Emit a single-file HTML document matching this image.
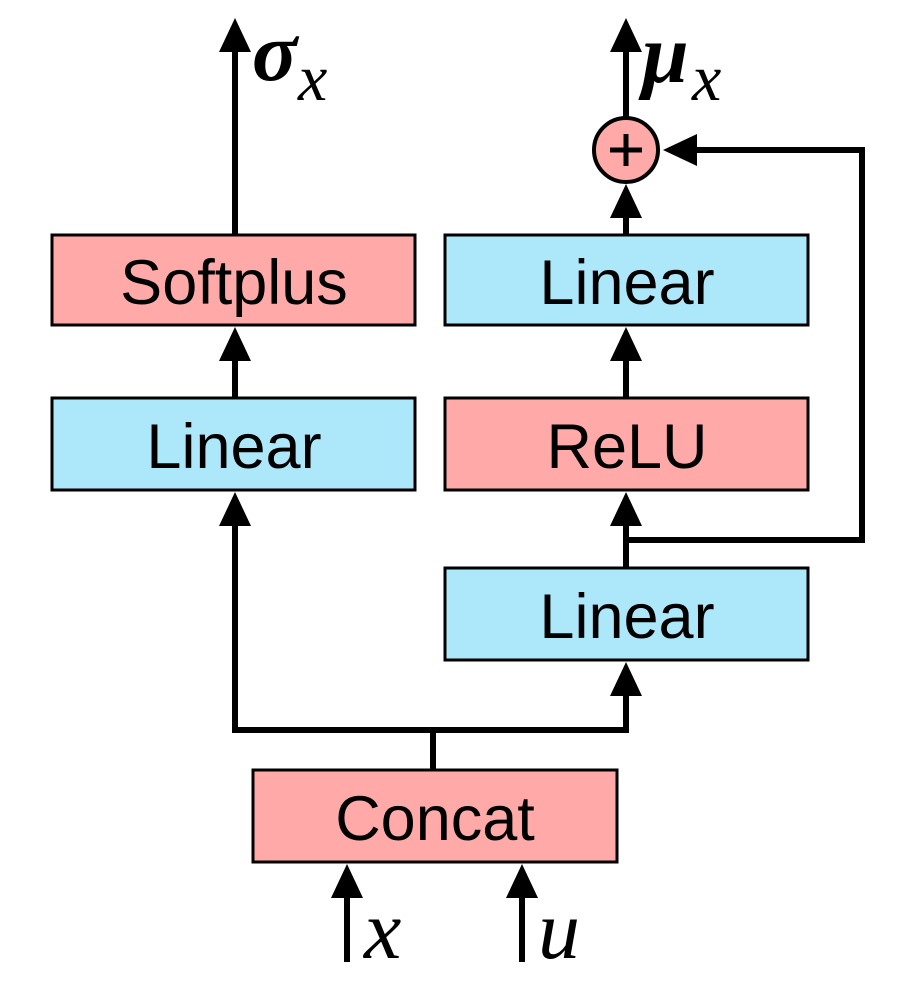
<!DOCTYPE html>
<html><head><style>body{margin:0;background:#fff}</style></head><body>
<svg width="906" height="986" viewBox="0 0 906 986" xmlns="http://www.w3.org/2000/svg">
<g stroke="#000" stroke-width="3">
<rect x="52" y="235" width="363" height="90" fill="#ffaaa8"/>
<rect x="52" y="398" width="363" height="92" fill="#ade8fa"/>
<rect x="445" y="235" width="363" height="90" fill="#ade8fa"/>
<rect x="445" y="398" width="363" height="92" fill="#ffaaa8"/>
<rect x="445" y="568" width="363" height="92" fill="#ade8fa"/>
<rect x="253" y="770" width="364" height="92" fill="#ffaaa8"/>
<circle cx="626" cy="150" r="32" fill="#ffaaa8" stroke-width="4"/>
</g>
<g stroke="#000" stroke-width="6" fill="none">
<line x1="235" y1="235" x2="235" y2="45"/>
<line x1="235" y1="398" x2="235" y2="355"/>
<line x1="626" y1="118" x2="626" y2="45"/>
<line x1="626" y1="235" x2="626" y2="210"/>
<line x1="626" y1="398" x2="626" y2="355"/>
<polyline points="626,568 626,540 862,540 862,150 690,150"/>
<line x1="626" y1="540" x2="626" y2="520"/>
<polyline points="235,520 235,730 626,730 626,690"/>
<line x1="433" y1="770" x2="433" y2="730"/>
<line x1="347" y1="962" x2="347" y2="890"/>
<line x1="522" y1="962" x2="522" y2="890"/>
</g>
<g fill="#000">
<polygon points="235,18 219,52 251,52"/>
<polygon points="235,327 219,361 251,361"/>
<polygon points="626,18 610,52 642,52"/>
<polygon points="626,184 610,218 642,218"/>
<polygon points="626,327 610,361 642,361"/>
<polygon points="626,492 610,526 642,526"/>
<polygon points="663,150 697,134 697,166"/>
<polygon points="235,492 219,526 251,526"/>
<polygon points="626,662 610,696 642,696"/>
<polygon points="347,864 331,898 363,898"/>
<polygon points="522,864 506,898 538,898"/>
</g>
<g stroke="#000" stroke-width="5">
<line x1="610" y1="150" x2="642" y2="150"/>
<line x1="626" y1="134" x2="626" y2="166"/>
</g>
<g font-family="Liberation Sans, sans-serif" font-size="63" text-anchor="middle" fill="#000">
<text x="234" y="304">Softplus</text>
<text x="234" y="468">Linear</text>
<text x="627" y="304">Linear</text>
<text x="627" y="468">ReLU</text>
<text x="627" y="638">Linear</text>
<text x="435" y="840">Concat</text>
</g>
<g font-family="Liberation Serif, serif" font-style="italic" fill="#000">
<text x="252" y="80" font-size="84" font-weight="bold">σ</text>
<text x="298" y="100" font-size="66">x</text>
<text x="642" y="82" font-size="84" font-weight="bold">μ</text>
<text x="692" y="100" font-size="66">x</text>
<text x="364" y="958" font-size="84">x</text>
<text x="538" y="958" font-size="84">u</text>
</g>
</svg>
</body></html>
